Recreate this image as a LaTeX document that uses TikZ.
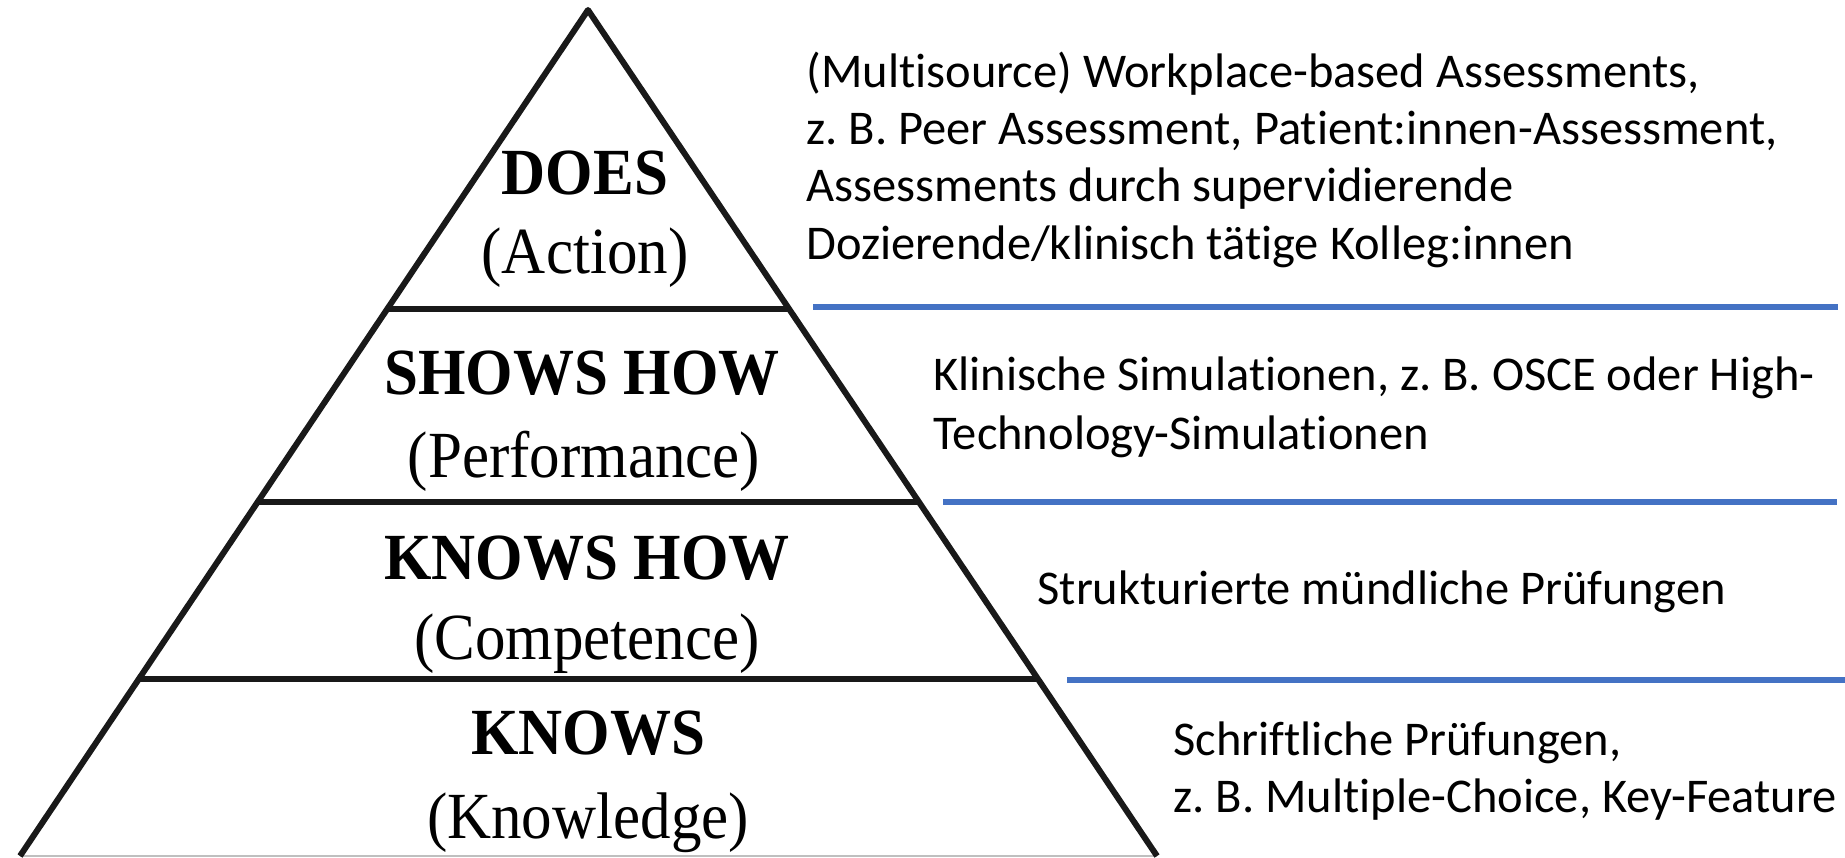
\documentclass[tikz,border=0pt]{standalone}
\usepackage{fontspec}
\setmainfont{Liberation Serif}
\newfontfamily\calfont[Ligatures=NoCommon]{Carlito}
\usetikzlibrary{calc}
\definecolor{lineblue}{HTML}{4472C4}
\newcommand{\tallish}[1]{\scalebox{1}[1.08]{#1}}
\begin{document}
\begin{tikzpicture}[x=0.4pt,y=-0.4pt,
  edge/.style={line width=2.4pt, black!90, line join=round},
  tier/.style={line width=2.3pt, black!90},
  baseline/.style={line width=0.5pt, black!25},
  sepline/.style={line width=2.5pt, lineblue},
  lvl/.style={anchor=base, inner sep=0pt, font=\fontsize{24.4}{28}\selectfont\bfseries},
  sub/.style={anchor=base, inner sep=0pt, font=\fontsize{24.4}{28}\selectfont},
  desc/.style={anchor=base west, inner sep=0pt, font=\calfont\fontsize{19.4}{23}\selectfont}]
\useasboundingbox (0,0) rectangle (1845,858);
% triangle
\coordinate (apex) at (588,10);
\coordinate (bl) at (20,856);
\coordinate (br) at (1157,856);
\draw[baseline] (bl) -- (br);
\draw[edge] (bl) -- (apex) -- (br);
% tiers
\draw[tier] ($(apex)!0.3534!(bl)$) -- ($(apex)!0.3534!(br)$);
\draw[tier] ($(apex)!0.5816!(bl)$) -- ($(apex)!0.5816!(br)$);
\draw[tier] ($(apex)!0.7908!(bl)$) -- ($(apex)!0.7908!(br)$);
% blue separators
\coordinate (s1a) at (813,307); \coordinate (s1b) at (1838,307);
\coordinate (s2a) at (943,502); \coordinate (s2b) at (1837,502);
\coordinate (s3a) at (1067,680); \coordinate (s3b) at (1845,680);
\draw[sepline] (s1a) -- (s1b);
\draw[sepline] (s2a) -- (s2b);
\draw[sepline] (s3a) -- (s3b);
% pyramid labels
\node[lvl] (does) at (585,195) {\tallish{DOES}};
\node[sub] (action) at (585,274) {\tallish{(Action)}};
\node[lvl] (shows) at (582,395) {\tallish{SHOWS HOW}};
\node[sub] (perf) at (584,477) {\tallish{(Performance)}};
\node[lvl] (knowshow) at (587,579) {\tallish{KNOWS HOW}};
\node[sub] (comp) at (587,659) {\tallish{(Competence)}};
\node[lvl] (knows) at (588,754) {\tallish{KNOWS}};
\node[sub] (know) at (588,838) {\tallish{(Knowledge)}};
% descriptions
\node[desc] (d1a) at (806,87.5) {(Multisource) Workplace-based Assessments,};
\node[desc] (d1b) at (806,145) {z.\ B. Peer Assessment, Patient:innen-Assessment,};
\node[desc] (d1c) at (806,202) {Assessments durch supervidierende};
\node[desc] (d1d) at (806,260) {Dozierende/klinisch tätige Kolleg:innen};
\node[desc] (d2a) at (933,391) {Klinische Simulationen, z.\ B. OSCE oder High-};
\node[desc] (d2b) at (933,449) {Technology-Simulationen};
\node[desc] (d3a) at (1037,604) {Strukturierte mündliche Prüfungen};
\node[desc] (d4a) at (1173,755) {Schriftliche Prüfungen,};
\node[desc] (d4b) at (1173,812) {z.\ B. Multiple-Choice, Key-Feature};
\end{tikzpicture}
\end{document}
